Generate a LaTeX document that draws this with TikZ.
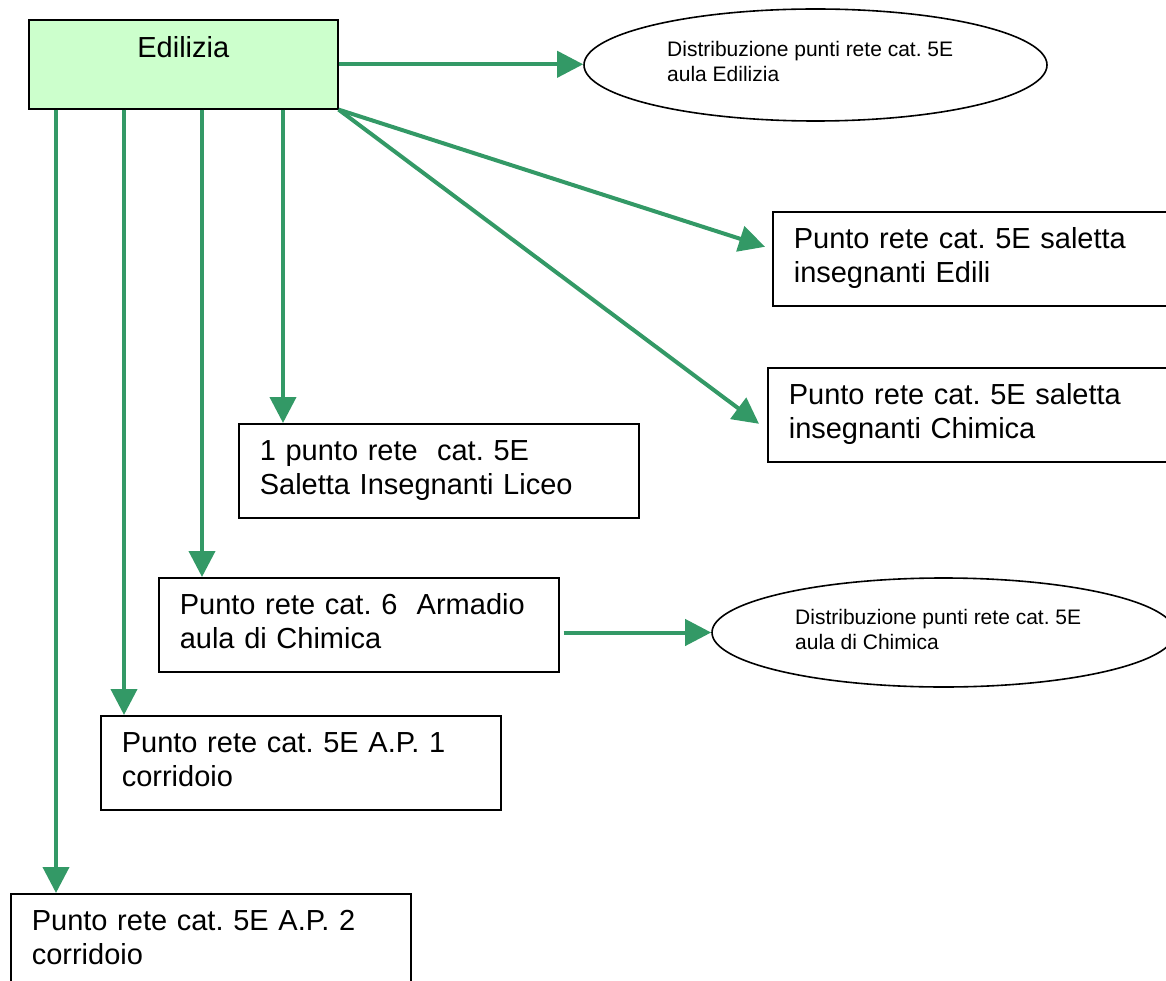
\documentclass[tikz,border=0pt]{standalone}
\usepackage{fontspec}
\setmainfont{Liberation Sans}
\usetikzlibrary{arrows.meta,shapes.geometric}
\definecolor{arrgreen}{RGB}{51,153,102}
\definecolor{paleGreen}{RGB}{204,255,204}
\newcommand{\boxfont}{\fontsize{29}{33.5}\selectfont\frenchspacing}
\newcommand{\ellfont}{\fontsize{21}{25}\selectfont\frenchspacing}
\begin{document}
\begin{tikzpicture}[x=1pt,y=-1pt,
  textbox/.style={draw=black, line width=1.6pt, rectangle, anchor=north west,
    minimum width=400pt, minimum height=94pt, text width=358pt,
    inner xsep=21pt, inner ysep=0pt, align=left, font=\boxfont},
  ellbox/.style={draw=black, line width=1.6pt, ellipse, minimum width=463pt, inner sep=0pt},
  elltext/.style={anchor=north west, inner sep=0pt, align=left, font=\ellfont},
  arr/.style={draw=arrgreen, line width=4pt, -{Triangle[length=26pt,width=26pt]}}
]
\useasboundingbox (0,0) rectangle (1166,981);
\begin{scope}
\clip (0,0) rectangle (1166,981);

% nodes
\node[draw=black, line width=1.6pt, fill=paleGreen, minimum width=309pt, minimum height=89pt,
  anchor=north west, inner sep=0pt] (edil) at (28,19) {};
\node[anchor=north, inner sep=0pt, font=\boxfont] (edilT) at ([yshift=-17pt]edil.north) {Edilizia};

\node[ellbox, minimum height=112pt] (e1) at (815.5,65) {};
\node[elltext] (e1t) at ([shift={(-148.5,-23.5)}]e1.center) {Distribuzione punti rete cat. 5E\\aula Edilizia};

\node[textbox] (edili) at (772,211) {\strut Punto rete cat. 5E saletta\\\strut insegnanti Edili};
\node[textbox] (chim) at (767,367) {\strut Punto rete cat. 5E saletta\\\strut insegnanti Chimica};
\node[textbox] (liceo) at (238,423) {\strut 1 punto rete\ \ cat. 5E\\\strut Saletta Insegnanti Liceo};
\node[textbox] (arm) at (158,577) {\strut Punto rete cat. 6\ \ Armadio\\\strut aula di Chimica};
\node[textbox] (ap1) at (100,715) {\strut Punto rete cat. 5E A.P. 1\\\strut corridoio};
\node[textbox] (ap2) at (10,893) {\strut Punto rete cat. 5E A.P. 2\\\strut corridoio};

\node[ellbox, minimum height=109pt] (e2) at (943.5,632.5) {};
\node[elltext] (e2t) at ([shift={(-148.5,-23.5)}]e2.center) {Distribuzione punti rete cat. 5E\\aula di Chimica};

% connectors
\draw[arr] (edil.east) -- (edil.east -| e1.west);
\draw[arr] (edil.south east) -- ([shift={(-7,-12)}]edili.west);
\draw[arr] (edil.south east) -- ([shift={(-8,9)}]chim.west);

\coordinate (tLiceo) at ([xshift=45pt]liceo.north west);
\coordinate (tArm) at ([xshift=44pt]arm.north west);
\coordinate (tAp1) at ([xshift=24pt]ap1.north west);
\coordinate (tAp2) at ([xshift=46pt]ap2.north west);
\draw[arr] (tLiceo |- edil.south) -- (tLiceo);
\draw[arr] (tArm |- edil.south) -- (tArm);
\draw[arr] (tAp1 |- edil.south) -- (tAp1);
\draw[arr] (tAp2 |- edil.south) -- (tAp2);

\coordinate (armOut) at ([xshift=4pt]arm.east);
\draw[arr] (armOut |- e2.west) -- (e2.west);
\end{scope}
\end{tikzpicture}
\end{document}
